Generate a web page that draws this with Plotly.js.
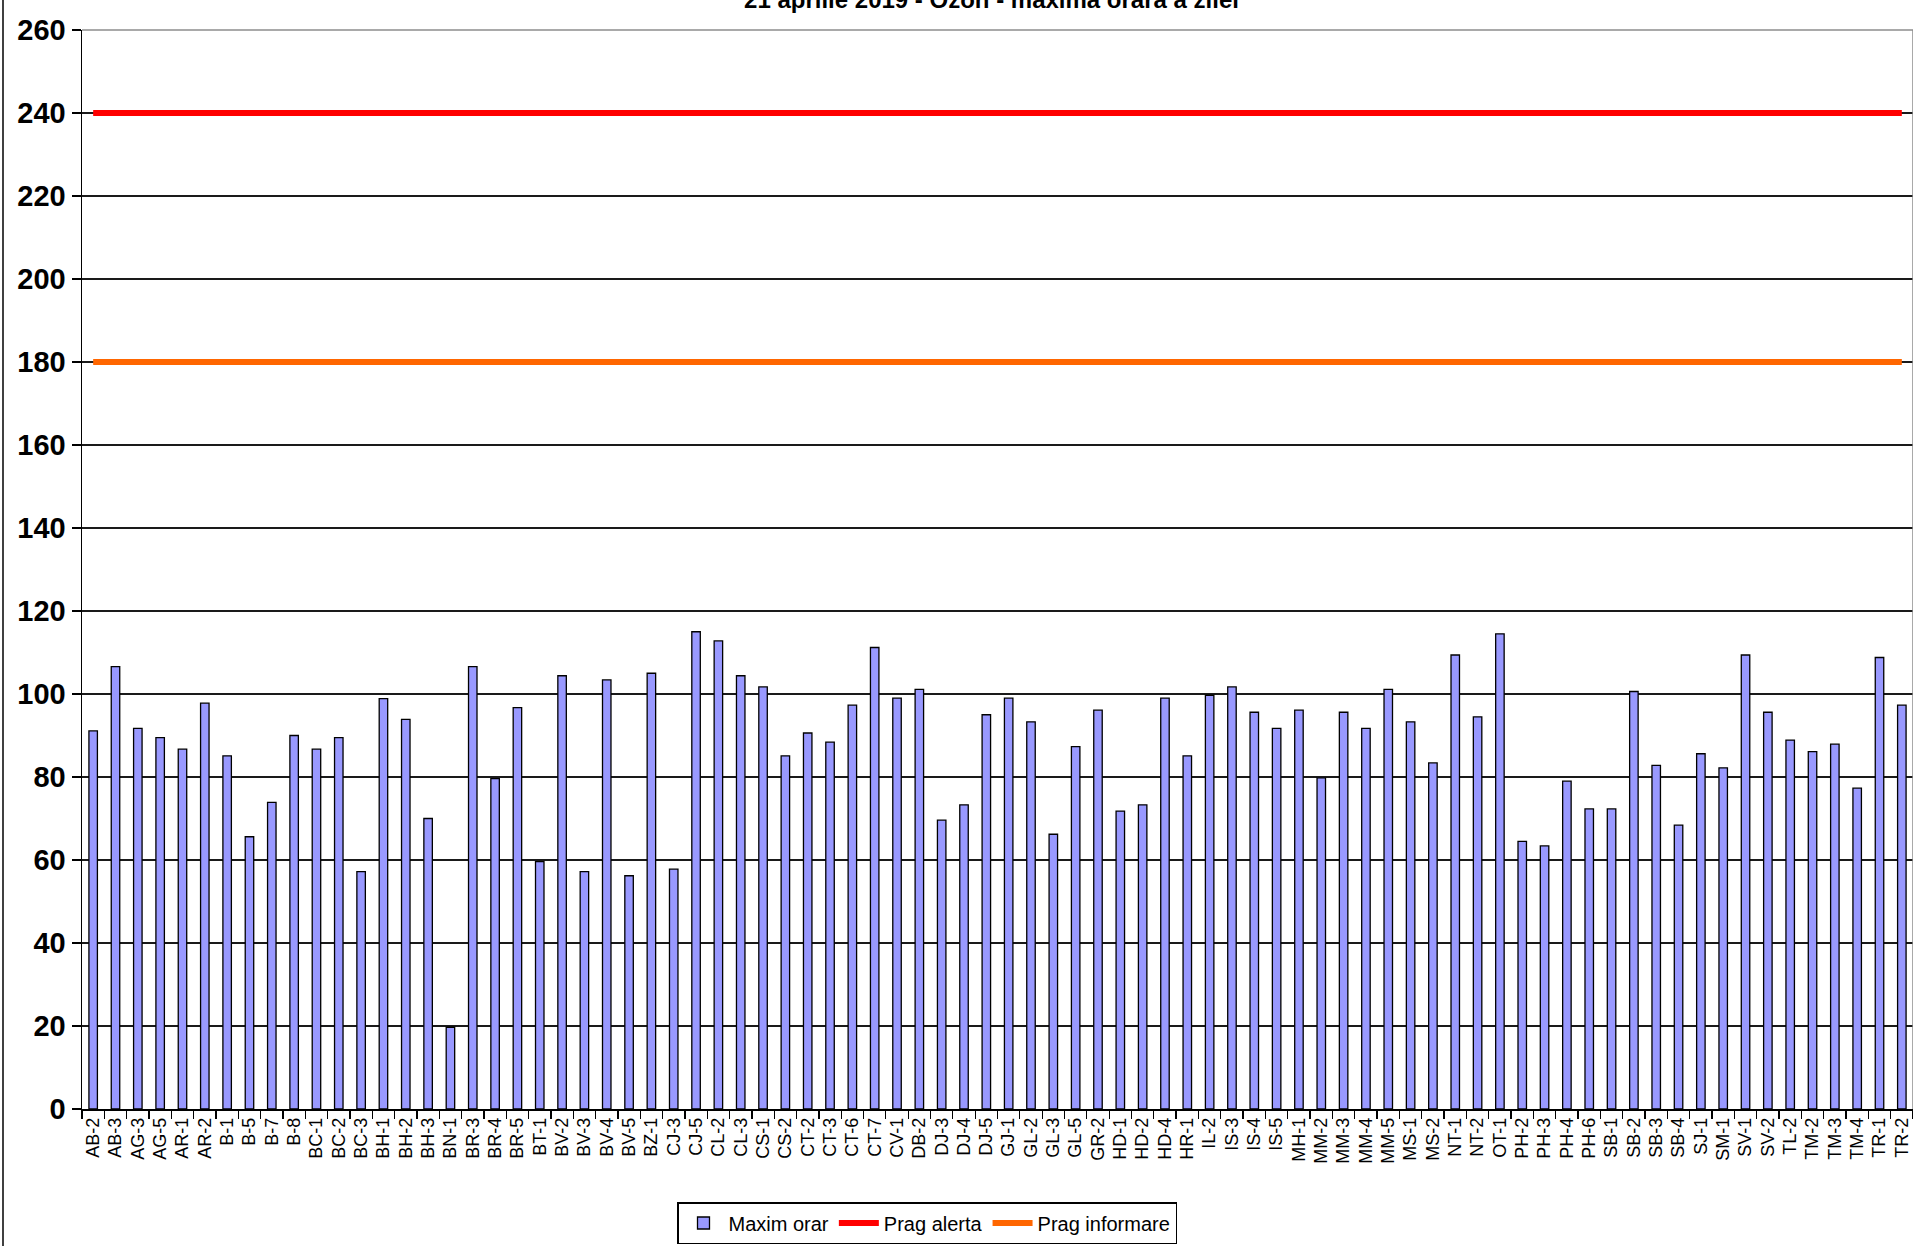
<!DOCTYPE html>
<html>
<head>
<meta charset="utf-8">
<script src="https://cdn.plot.ly/plotly-3.0.1.min.js"></script>
<style>
  html, body { margin: 0; padding: 0; background: #ffffff; }
  #chart { width: 1913px; height: 1246px; }
</style>
</head>
<body>
<div id="chart"></div>
<script>
// Station codes (categories)
const stations = [
  "AB-2","AB-3","AG-3","AG-5","AR-1","AR-2","B-1","B-5","B-7","B-8",
  "BC-1","BC-2","BC-3","BH-1","BH-2","BH-3","BN-1","BR-3","BR-4","BR-5",
  "BT-1","BV-2","BV-3","BV-4","BV-5","BZ-1","CJ-3","CJ-5","CL-2","CL-3",
  "CS-1","CS-2","CT-2","CT-3","CT-6","CT-7","CV-1","DB-2","DJ-3","DJ-4",
  "DJ-5","GJ-1","GL-2","GL-3","GL-5","GR-2","HD-1","HD-2","HD-4","HR-1",
  "IL-2","IS-3","IS-4","IS-5","MH-1","MM-2","MM-3","MM-4","MM-5","MS-1",
  "MS-2","NT-1","NT-2","OT-1","PH-2","PH-3","PH-4","PH-6","SB-1","SB-2",
  "SB-3","SB-4","SJ-1","SM-1","SV-1","SV-2","TL-2","TM-2","TM-3","TM-4",
  "TR-1","TR-2"
];

// Maxim orar (hourly maximum) values
const maximOrar = [
  91.1,106.6,91.7,89.5,86.7,97.8,85.1,65.6,73.9,90.0,
  86.7,89.5,57.2,98.9,93.9,70.0,19.7,106.6,79.6,96.7,
  59.6,104.4,57.2,103.4,56.2,105.0,57.8,115.0,112.8,104.4,
  101.7,85.1,90.6,88.4,97.3,111.2,99.0,101.1,69.6,73.3,
  95.0,99.0,93.3,66.2,87.3,96.1,71.8,73.3,99.0,85.1,
  99.7,101.7,95.6,91.7,96.1,79.8,95.6,91.7,101.1,93.3,
  83.4,109.4,94.5,114.5,64.5,63.4,79.0,72.3,72.3,100.6,
  82.8,68.4,85.6,82.2,109.4,95.6,88.9,86.1,87.9,77.3,
  108.8,97.3
];

// Threshold levels
const pragAlerta = 240;
const pragInformare = 180;
const pragAlertaSeries = stations.map(() => pragAlerta);
const pragInformareSeries = stations.map(() => pragInformare);

// Y-axis ticks
const yTicks = [0,20,40,60,80,100,120,140,160,180,200,220,240,260];

const titleText = "21 aprilie 2019 - Ozon - maxima orara a zilei";

const narrow = '"Liberation Sans Narrow", "Arial Narrow", "Liberation Sans", Arial, sans-serif';

const traces = [
  {
    type: "bar",
    name: "Maxim orar",
    x: stations,
    y: maximOrar,
    width: 0.38,
    marker: { color: "#9999FF", line: { color: "#000000", width: 1.3 } },
    hoverinfo: "x+y"
  },
  {
    type: "scatter",
    mode: "lines",
    name: "Prag alerta",
    x: stations,
    y: pragAlertaSeries,
    line: { color: "#FF0000", width: 6 },
    hoverinfo: "y"
  },
  {
    type: "scatter",
    mode: "lines",
    name: "Prag informare",
    x: stations,
    y: pragInformareSeries,
    line: { color: "#FF6600", width: 6 },
    hoverinfo: "y"
  }
];

const L = 82, R = 0, T = 30, B = 137;
const W = 1913, H = 1246;
const pw = W - L - R, ph = H - T - B;

const layout = {
  width: W,
  height: H,
  paper_bgcolor: "#ffffff",
  plot_bgcolor: "#ffffff",
  margin: { l: L, r: R, t: T, b: B, pad: 0 },
  title: {
    text: "<b>" + titleText + "</b>",
    font: { family: narrow, size: 24, color: "#000000" },
    x: (L + pw / 2 - 6) / W,
    xanchor: "center",
    xref: "container",
    y: 1,
    yanchor: "middle",
    yref: "container"
  },
  bargap: 0.6,
  showlegend: true,
  legend: {
    orientation: "h",
    xref: "container",
    yref: "container",
    x: 927 / W,
    xanchor: "center",
    y: 1 - 1202 / H,
    yanchor: "top",
    bordercolor: "#000000",
    borderwidth: 1.5,
    bgcolor: "#ffffff",
    font: { family: narrow, size: 20, color: "#000000" },
    itemwidth: 40,
    tracegroupgap: 0
  },
  xaxis: {
    type: "category",
    categoryorder: "array",
    categoryarray: stations,
    range: [-0.5, stations.length - 0.5],
    showgrid: false,
    showline: true,
    linecolor: "#000000",
    linewidth: 1.5,
    ticks: "outside",
    tickson: "boundaries",
    ticklen: 8,
    tickwidth: 1.3,
    tickcolor: "#000000",
    tickangle: -90,
    tickfont: { family: narrow, size: 18, color: "#000000" },
    zeroline: false,
    fixedrange: true
  },
  yaxis: {
    range: [0, 260],
    tickvals: yTicks,
    ticktext: yTicks.map(String),
    showgrid: true,
    gridcolor: "#1a1a1a",
    gridwidth: 1.4,
    showline: true,
    linecolor: "#000000",
    linewidth: 1.5,
    ticks: "outside",
    ticklen: 9,
    tickwidth: 1.3,
    tickcolor: "#000000",
    tickfont: { family: narrow, size: 29, color: "#000000", weight: "bold" },
    zeroline: false,
    fixedrange: true
  },
  shapes: [
    // right border of plot area (gray)
    { type: "line", xref: "paper", yref: "paper", x0: 1, x1: 1, y0: 0, y1: 1,
      line: { color: "#8c8c8c", width: 1.5 } },
    // top border of plot area (gray)
    { type: "line", xref: "paper", yref: "paper", x0: 0, x1: 1, y0: 1, y1: 1,
      line: { color: "#8c8c8c", width: 1.5 } },
    // outer frame line at left edge of the picture
    { type: "line", xref: "paper", yref: "paper",
      x0: (3 - L) / pw, x1: (3 - L) / pw,
      y0: (T + ph - H) / ph, y1: (T + ph) / ph,
      line: { color: "#000000", width: 1.5 } }
  ]
};

Plotly.newPlot("chart", traces, layout, { displayModeBar: false, staticPlot: true });
</script>
</body>
</html>
